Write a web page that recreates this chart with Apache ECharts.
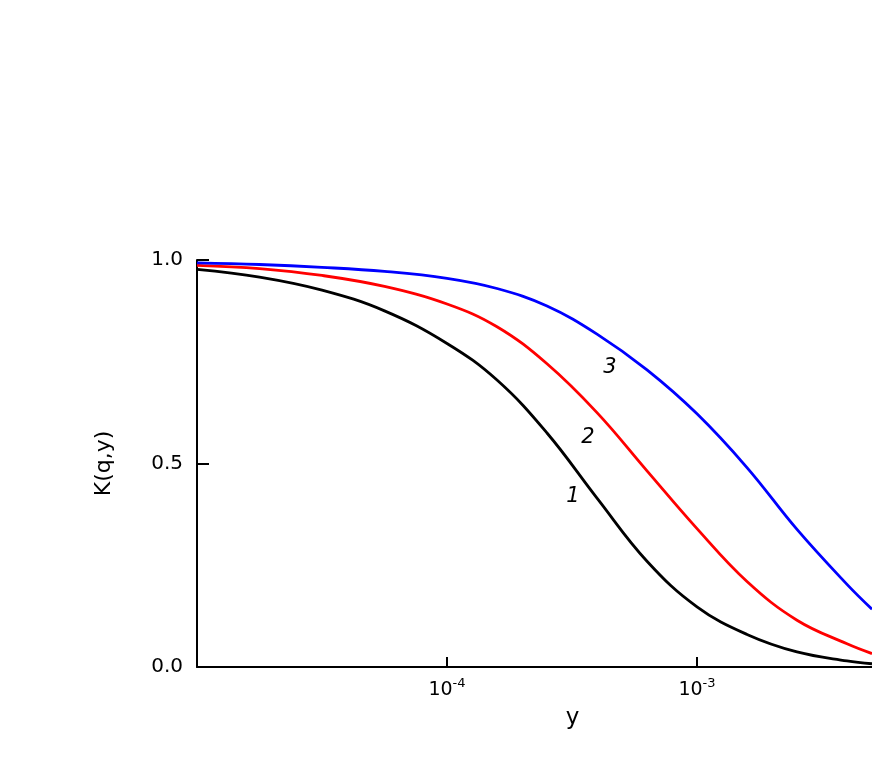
<!DOCTYPE html>
<html>
<head>
<meta charset="utf-8">
<script src="https://cdn.jsdelivr.net/npm/echarts@6/dist/echarts.min.js"></script>
<style>
  html, body { margin: 0; background: #fff; }
  #chart { width: 872px; height: 763px; }
</style>
</head>
<body>
<div id="chart"></div>
<script>
// y sample points, as log10(y); the axis is drawn in decades
const logY = [-5, -4.75, -4.5, -4.25, -4, -3.8, -3.6, -3.4, -3.2, -3, -2.8, -2.6, -2.4, -2.3];
// K(q,y) for the three curves
const curve1 = [0.977, 0.958, 0.926, 0.875, 0.795, 0.705, 0.575, 0.415, 0.26, 0.148, 0.08, 0.037, 0.015, 0.008];
const curve2 = [0.987, 0.979, 0.962, 0.935, 0.892, 0.836, 0.745, 0.625, 0.482, 0.34, 0.21, 0.115, 0.057, 0.033];
const curve3 = [0.993, 0.989, 0.982, 0.972, 0.955, 0.93, 0.887, 0.818, 0.73, 0.622, 0.49, 0.338, 0.203, 0.142];
const curveNames = ["1", "2", "3"];
const curveColors = ["#000000", "#ff0000", "#0000ff"];
// where the curve numbers sit: [log10(y), K]
const labelCoords = [[-3.496, 0.42], [-3.436, 0.563], [-3.348, 0.735]];
const xTicks = [-4, -3];

const font = "DejaVu Sans";
const chart = echarts.init(document.getElementById("chart"));

function pairs(ys) {
  return logY.map((x, i) => [x, ys[i]]);
}

const series = [curve1, curve2, curve3].map((c, i) => ({
  name: curveNames[i],
  type: "line",
  data: pairs(c),
  smooth: 0.4,
  showSymbol: false,
  lineStyle: { color: curveColors[i], width: 2.8 },
  markPoint: {
    symbol: "circle",
    symbolSize: 0,
    silent: true,
    label: {
      show: true,
      position: "inside",
      formatter: curveNames[i],
      color: "#000",
      fontFamily: font,
      fontStyle: "italic",
      fontSize: 21,
    },
    data: [{ coord: labelCoords[i] }],
  },
}));

const option = {
  animation: false,
  backgroundColor: "#fff",
  grid: {
    left: 197,
    right: 0,
    top: 260,
    bottom: 96,
    outerBoundsMode: "none",
  },
  xAxis: {
    type: "value",
    min: -5,
    max: -2.3,
    name: "y",
    nameLocation: "middle",
    nameGap: 40,
    nameTextStyle: { color: "#000", fontFamily: font, fontSize: 23, padding: [0, 0, 0, 76] },
    axisLine: { show: true, lineStyle: { color: "#000", width: 2 } },
    axisTick: {
      show: true,
      inside: true,
      length: 10,
      customValues: xTicks,
      lineStyle: { color: "#000", width: 2 },
    },
    axisLabel: {
      show: true,
      customValues: xTicks,
      margin: 10,
      formatter: function (v) {
        return "{b|10}{s|" + Math.round(v) + "}";
      },
      rich: {
        b: { fontFamily: font, fontSize: 19, color: "#000", verticalAlign: "bottom" },
        s: { fontFamily: font, fontSize: 13, color: "#000", verticalAlign: "top", padding: [0, 0, 10, 0] },
      },
    },
    splitLine: { show: false },
  },
  yAxis: {
    type: "value",
    min: 0,
    max: 1,
    interval: 0.5,
    name: "K(q,y)",
    nameLocation: "middle",
    nameGap: 82,
    nameTextStyle: { color: "#000", fontFamily: font, fontSize: 22 },
    axisLine: { show: true, lineStyle: { color: "#000", width: 2 } },
    axisTick: {
      show: true,
      inside: true,
      length: 12,
      lineStyle: { color: "#000", width: 2 },
    },
    axisLabel: {
      margin: 14,
      color: "#000",
      fontFamily: font,
      fontSize: 20,
      formatter: (v) => v.toFixed(1),
    },
    splitLine: { show: false },
  },
  series: series,
};

chart.setOption(option);
</script>
</body>
</html>
